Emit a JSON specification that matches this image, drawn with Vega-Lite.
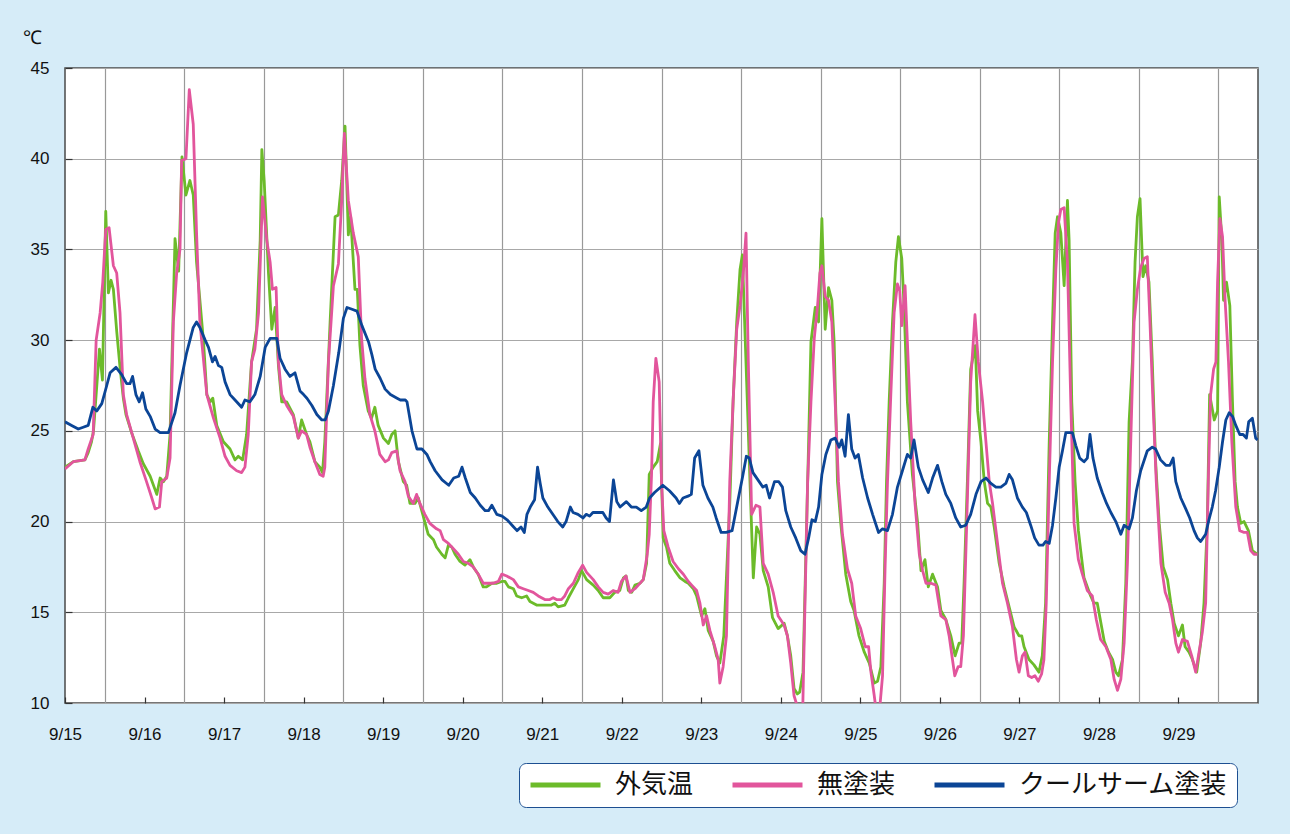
{
  "$schema": "https://vega.github.io/schema/vega-lite/v6.json",
  "width": 1193,
  "height": 635,
  "autosize": {"type": "none"},
  "padding": {"left": 65, "top": 68, "right": 32, "bottom": 131},
  "background": "#d6ecf8",
  "config": {
    "view": {"fill": "white", "stroke": "#4a4a4a", "strokeWidth": 1.5},
    "font": "Liberation Sans"
  },
  "datasets": {
    "green": [
      {"h":0,"v":23.0},{"h":2.5,"v":23.3},{"h":6,"v":23.4},{"h":7,"v":23.8},{"h":8,"v":24.4},{"h":8.6,"v":25.0},{"h":9.8,"v":28.0},{"h":10.4,"v":29.5},{"h":11.3,"v":27.8},{"h":12.3,"v":37.1},{"h":13.1,"v":32.6},{"h":13.9,"v":33.3},{"h":14.6,"v":32.8},{"h":15.6,"v":30.5},{"h":16.6,"v":28.5},{"h":17.6,"v":26.8},{"h":18.4,"v":25.9},{"h":20.1,"v":24.9},{"h":22.1,"v":23.9},{"h":23.6,"v":23.2},{"h":25.7,"v":22.5},{"h":27.7,"v":21.5},{"h":28.7,"v":22.4},{"h":29.7,"v":22.2},{"h":30.7,"v":22.5},{"h":31.7,"v":24.8},{"h":33.2,"v":35.6},{"h":34.3,"v":33.8},{"h":35.3,"v":40.1},{"h":36.5,"v":38.0},{"h":37.7,"v":38.8},{"h":38.7,"v":38.0},{"h":39.7,"v":34.3},{"h":41.8,"v":29.9},{"h":42.8,"v":27.0},{"h":43.8,"v":26.6},{"h":44.6,"v":26.8},{"h":45.8,"v":25.3},{"h":47.8,"v":24.4},{"h":49.8,"v":24.0},{"h":51.3,"v":23.4},{"h":52.3,"v":23.6},{"h":53.6,"v":23.4},{"h":54.8,"v":24.8},{"h":56.3,"v":28.8},{"h":57.8,"v":30.6},{"h":58.9,"v":35.5},{"h":59.4,"v":40.5},{"h":60.1,"v":38.8},{"h":61.4,"v":33.7},{"h":62.4,"v":30.6},{"h":63.4,"v":31.8},{"h":64.4,"v":28.6},{"h":65.4,"v":26.6},{"h":66.9,"v":26.6},{"h":68.9,"v":25.9},{"h":70.4,"v":24.6},{"h":71.4,"v":25.6},
      {"h":72.9,"v":24.8},{"h":73.9,"v":24.4},{"h":75.4,"v":23.3},{"h":76.9,"v":23.0},{"h":77.7,"v":22.7},{"h":78.4,"v":24.4},{"h":80.0,"v":31.0},{"h":81.5,"v":36.8},{"h":82.5,"v":36.9},{"h":83.5,"v":38.8},{"h":84.5,"v":41.8},{"h":85.5,"v":35.8},{"h":86.2,"v":36.8},{"h":87.5,"v":32.8},{"h":88.2,"v":32.8},{"h":89.0,"v":29.7},{"h":90.0,"v":27.5},{"h":91.5,"v":26.1},{"h":92.5,"v":25.7},{"h":93.5,"v":26.3},{"h":94.5,"v":25.3},{"h":96.1,"v":24.6},{"h":97.6,"v":24.3},{"h":98.6,"v":24.8},{"h":99.6,"v":25.0},{"h":100.6,"v":23.3},{"h":102.1,"v":22.2},{"h":103.1,"v":22.0},{"h":104.1,"v":21.0},{"h":105.6,"v":21.0},{"h":106.6,"v":21.3},{"h":108.1,"v":20.3},{"h":109.6,"v":19.3},{"h":111.2,"v":19.0},{"h":112.1,"v":18.6},{"h":113.7,"v":18.2},{"h":114.7,"v":18.0},{"h":115.7,"v":18.7},{"h":116.7,"v":18.6},{"h":117.7,"v":18.2},{"h":119.2,"v":17.8},{"h":120.7,"v":17.6},{"h":122.2,"v":17.9},{"h":123.2,"v":17.5},{"h":124.7,"v":17.1},{"h":126.2,"v":16.4},{"h":127.2,"v":16.4},{"h":128.8,"v":16.6},{"h":130.3,"v":16.6},{"h":131.8,"v":16.7},{"h":132.8,"v":16.7},{"h":133.8,"v":16.4},{"h":135.3,"v":16.3},{"h":136.3,"v":15.9},{"h":137.8,"v":15.8},{"h":139.3,"v":15.9},{"h":140.3,"v":15.6},{"h":142.3,"v":15.4},
      {"h":143.3,"v":15.4},{"h":145.3,"v":15.4},{"h":146.8,"v":15.4},{"h":147.8,"v":15.5},{"h":148.8,"v":15.3},{"h":150.8,"v":15.4},{"h":151.9,"v":15.8},{"h":153.4,"v":16.3},{"h":154.9,"v":16.8},{"h":155.9,"v":17.3},{"h":157.4,"v":16.8},{"h":159.4,"v":16.5},{"h":160.9,"v":16.2},{"h":162.4,"v":15.8},{"h":164.4,"v":15.8},{"h":165.9,"v":16.1},{"h":167.4,"v":16.2},{"h":168.5,"v":16.9},{"h":169.3,"v":17.0},{"h":170.0,"v":16.2},{"h":171.0,"v":16.1},{"h":172.0,"v":16.5},{"h":173.5,"v":16.6},{"h":174.5,"v":16.8},{"h":175.5,"v":17.7},{"h":176.3,"v":22.6},{"h":177.5,"v":23.0},{"h":178.7,"v":23.3},{"h":179.7,"v":24.3},{"h":180.5,"v":19.1},{"h":181.5,"v":18.6},{"h":182.5,"v":17.7},{"h":184.0,"v":17.3},{"h":185.6,"v":16.9},{"h":187.1,"v":16.7},{"h":188.1,"v":16.6},{"h":189.6,"v":16.3},{"h":190.6,"v":15.9},{"h":192.1,"v":14.8},{"h":193.1,"v":15.2},{"h":194.1,"v":14.0},{"h":195.6,"v":13.4},{"h":196.6,"v":12.6},{"h":197.6,"v":12.2},{"h":198.8,"v":13.7},{"h":200.6,"v":21.0},{"h":201.6,"v":26.6},{"h":202.7,"v":31.0},{"h":203.7,"v":33.9},{"h":204.4,"v":34.7},{"h":205.7,"v":27.7},{"h":206.7,"v":22.2},{"h":207.7,"v":16.9},{"h":208.7,"v":19.7},{"h":209.7,"v":19.3},{"h":210.7,"v":17.3},{"h":212.2,"v":16.4},{"h":213.5,"v":14.7},{"h":215.2,"v":14.1},
      {"h":217.0,"v":14.4},{"h":218.0,"v":13.7},{"h":219.0,"v":12.6},{"h":220.0,"v":10.8},{"h":221.0,"v":10.5},{"h":221.7,"v":10.6},{"h":222.7,"v":11.7},{"h":223.5,"v":17.7},{"h":224.4,"v":24.4},{"h":225.1,"v":29.9},{"h":226.4,"v":31.8},{"h":227.4,"v":31.0},{"h":228.4,"v":36.7},{"h":229.4,"v":30.6},{"h":230.4,"v":32.9},{"h":231.4,"v":32.2},{"h":232.1,"v":29.9},{"h":233.1,"v":22.2},{"h":234.1,"v":19.9},{"h":235.6,"v":17.1},{"h":237.1,"v":15.6},{"h":238.1,"v":15.1},{"h":239.6,"v":13.7},{"h":241.2,"v":12.8},{"h":242.7,"v":12.2},{"h":244.2,"v":11.1},{"h":245.2,"v":11.2},{"h":246.2,"v":12.0},{"h":247.2,"v":16.6},{"h":247.9,"v":22.2},{"h":248.7,"v":26.6},{"h":249.7,"v":31.0},{"h":250.7,"v":34.3},{"h":251.5,"v":35.7},{"h":252.5,"v":34.5},{"h":253.2,"v":31.9},{"h":254.2,"v":26.6},{"h":255.7,"v":22.6},{"h":257.3,"v":19.9},{"h":258.3,"v":17.3},{"h":259.5,"v":17.9},{"h":260.5,"v":16.4},{"h":261.8,"v":17.1},{"h":263.3,"v":16.4},{"h":264.3,"v":15.1},{"h":265.8,"v":14.6},{"h":267.3,"v":13.7},{"h":268.6,"v":12.6},{"h":269.8,"v":13.3},{"h":270.6,"v":13.3},{"h":271.3,"v":16.6},{"h":272.3,"v":22.2},{"h":273.3,"v":28.4},{"h":274.7,"v":29.7},{"h":275.4,"v":26.1},{"h":276.4,"v":24.4},{"h":277.4,"v":22.2},{"h":278.4,"v":21.0},{"h":279.4,"v":20.8},{"h":280.4,"v":19.7},{"h":281.9,"v":17.7},{"h":283.4,"v":16.4},{"h":284.9,"v":15.3},{"h":286.4,"v":14.2},
      {"h":287.9,"v":13.7},{"h":288.7,"v":13.7},{"h":289.4,"v":13.1},{"h":290.9,"v":12.4},{"h":292.4,"v":12.1},{"h":293.9,"v":11.7},{"h":294.9,"v":12.6},{"h":295.9,"v":15.5},{"h":297.0,"v":24.4},{"h":298.0,"v":31.0},{"h":298.8,"v":35.9},{"h":299.5,"v":36.8},{"h":300.5,"v":35.9},{"h":301.5,"v":33.0},{"h":302.5,"v":37.7},{"h":303.0,"v":35.5},{"h":303.8,"v":26.6},{"h":304.8,"v":22.2},{"h":305.8,"v":19.5},{"h":306.5,"v":18.4},{"h":307.5,"v":16.9},{"h":308.5,"v":16.4},{"h":309.5,"v":15.9},{"h":310.5,"v":15.5},{"h":311.5,"v":15.5},{"h":312.5,"v":14.5},{"h":313.6,"v":13.4},{"h":314.9,"v":12.8},{"h":316.1,"v":12.4},{"h":317.1,"v":11.7},{"h":317.9,"v":11.5},{"h":319.1,"v":12.4},{"h":320.1,"v":16.6},{"h":321.1,"v":25.5},{"h":322.1,"v":28.8},{"h":322.9,"v":34.3},{"h":323.6,"v":36.8},{"h":324.4,"v":37.8},{"h":325.3,"v":33.5},{"h":326.1,"v":34.1},{"h":327.1,"v":33.2},{"h":328.1,"v":28.8},{"h":329.1,"v":23.3},{"h":330.2,"v":19.9},{"h":331.4,"v":17.5},{"h":332.7,"v":16.8},{"h":333.7,"v":15.5},{"h":334.7,"v":14.4},{"h":336.0,"v":13.7},{"h":337.2,"v":14.3},{"h":338.0,"v":13.1},{"h":339.2,"v":12.8},{"h":340.2,"v":12.4},{"h":341.5,"v":11.7},{"h":342.7,"v":13.3},{"h":343.7,"v":15.5},{"h":344.7,"v":19.9},{"h":345.4,"v":27.0},{"h":346.8,"v":25.6},{"h":347.8,"v":26.1},{"h":348.3,"v":37.9},{"h":349.1,"v":35.5},{"h":349.6,"v":32.2},{"h":350.5,"v":33.2},{"h":351.5,"v":31.9},{"h":352.3,"v":26.6},{"h":353.1,"v":22.2},{"h":353.8,"v":20.8},{"h":354.8,"v":19.9},{"h":355.8,"v":20.0},{"h":357.1,"v":19.5},{"h":358.3,"v":18.4},{"h":359.8,"v":18.2}
    ],
    "pink": [
      {"h":0,"v":22.9},{"h":2.5,"v":23.3},{"h":6,"v":23.4},{"h":7,"v":24.0},{"h":8.5,"v":24.8},{"h":9.4,"v":30.0},{"h":10.6,"v":31.5},{"h":11.4,"v":33.2},{"h":12.3,"v":36.1},{"h":13.3,"v":36.2},{"h":14.6,"v":34.1},{"h":15.6,"v":33.7},{"h":16.6,"v":31.5},{"h":17.6,"v":27.0},{"h":18.6,"v":25.9},{"h":20.6,"v":24.6},{"h":22.6,"v":23.3},{"h":24.6,"v":22.2},{"h":26.2,"v":21.3},{"h":27.2,"v":20.7},{"h":28.5,"v":20.8},{"h":29.2,"v":22.2},{"h":30.7,"v":22.4},{"h":31.7,"v":23.5},{"h":32.7,"v":31.0},{"h":33.7,"v":33.7},{"h":34.7,"v":35.0},{"h":35.2,"v":39.9},{"h":36.5,"v":40.0},{"h":37.5,"v":43.8},{"h":38.7,"v":41.9},{"h":39.7,"v":35.9},{"h":40.7,"v":31.0},{"h":42.8,"v":27.0},{"h":44.8,"v":25.7},{"h":46.8,"v":24.6},{"h":48.3,"v":23.6},{"h":49.8,"v":23.1},{"h":51.8,"v":22.8},{"h":53.3,"v":22.7},{"h":54.3,"v":23.0},{"h":55.3,"v":24.8},{"h":56.3,"v":28.8},{"h":57.3,"v":29.5},{"h":58.4,"v":31.5},{"h":59.6,"v":37.9},{"h":60.9,"v":35.5},{"h":61.9,"v":34.3},{"h":62.6,"v":32.8},{"h":63.7,"v":32.9},{"h":64.4,"v":28.8},{"h":65.4,"v":27.0},{"h":66.9,"v":26.4},{"h":68.9,"v":25.8},{"h":70.4,"v":24.6},{"h":71.4,"v":25.0},
      {"h":72.9,"v":24.8},{"h":73.9,"v":24.1},{"h":75.4,"v":23.3},{"h":76.9,"v":22.6},{"h":77.9,"v":22.5},{"h":78.4,"v":23.0},{"h":79.5,"v":28.8},{"h":81.0,"v":33.0},{"h":82.5,"v":34.2},{"h":83.5,"v":37.7},{"h":84.3,"v":41.4},{"h":85.5,"v":37.7},{"h":87.0,"v":35.9},{"h":88.5,"v":34.6},{"h":89.5,"v":30.1},{"h":90.5,"v":27.9},{"h":92.0,"v":25.9},{"h":93.5,"v":25.0},{"h":95.0,"v":23.7},{"h":96.6,"v":23.3},{"h":97.6,"v":23.4},{"h":98.6,"v":23.8},{"h":100.1,"v":23.9},{"h":101.1,"v":22.8},{"h":102.6,"v":22.2},{"h":103.6,"v":21.4},{"h":105.1,"v":21.0},{"h":106.1,"v":21.5},{"h":107.1,"v":21.0},{"h":108.6,"v":20.4},{"h":110.1,"v":19.9},{"h":112.1,"v":19.6},{"h":113.2,"v":19.5},{"h":114.2,"v":19.0},{"h":115.7,"v":18.8},{"h":117.2,"v":18.5},{"h":118.7,"v":18.2},{"h":120.2,"v":17.8},{"h":121.7,"v":17.7},{"h":123.2,"v":17.5},{"h":124.7,"v":17.1},{"h":126.2,"v":16.6},{"h":127.7,"v":16.6},{"h":129.2,"v":16.6},{"h":130.8,"v":16.7},{"h":131.8,"v":17.1},{"h":133.3,"v":17.0},{"h":135.3,"v":16.8},{"h":136.8,"v":16.4},{"h":138.3,"v":16.3},{"h":139.8,"v":16.2},{"h":141.3,"v":16.1},{"h":142.8,"v":15.9},
      {"h":144.8,"v":15.7},{"h":146.3,"v":15.7},{"h":147.3,"v":15.8},{"h":148.3,"v":15.7},{"h":149.8,"v":15.7},{"h":150.8,"v":15.9},{"h":151.9,"v":16.3},{"h":153.4,"v":16.6},{"h":154.9,"v":17.2},{"h":156.2,"v":17.6},{"h":157.4,"v":17.2},{"h":159.4,"v":16.8},{"h":160.9,"v":16.4},{"h":162.4,"v":16.1},{"h":163.9,"v":16.0},{"h":165.4,"v":16.2},{"h":166.9,"v":16.1},{"h":167.9,"v":16.7},{"h":169.3,"v":17.0},{"h":170.5,"v":16.1},{"h":172.0,"v":16.3},{"h":173.0,"v":16.5},{"h":174.5,"v":16.8},{"h":175.7,"v":18.2},{"h":176.3,"v":19.3},{"h":177.0,"v":22.6},{"h":177.5,"v":26.6},{"h":178.3,"v":29.0},{"h":179.3,"v":27.7},{"h":180.0,"v":22.2},{"h":180.7,"v":19.5},{"h":182.0,"v":18.6},{"h":183.5,"v":17.8},{"h":185.1,"v":17.4},{"h":186.6,"v":17.1},{"h":188.1,"v":16.7},{"h":189.1,"v":16.5},{"h":190.6,"v":16.2},{"h":191.6,"v":15.5},{"h":192.6,"v":14.3},{"h":193.6,"v":14.8},{"h":194.6,"v":14.0},{"h":196.1,"v":13.1},{"h":197.1,"v":12.4},{"h":197.6,"v":11.1},{"h":198.6,"v":12.0},{"h":199.6,"v":13.7},{"h":200.6,"v":22.2},{"h":201.6,"v":26.6},{"h":202.7,"v":30.6},{"h":203.7,"v":31.9},{"h":204.7,"v":33.7},{"h":205.5,"v":35.9},{"h":206.2,"v":28.8},{"h":207.2,"v":20.4},{"h":208.5,"v":20.9},{"h":209.7,"v":20.8},{"h":210.7,"v":17.7},{"h":212.2,"v":17.1},{"h":213.7,"v":16.1},{"h":215.2,"v":14.8},
      {"h":217.0,"v":14.3},{"h":218.0,"v":13.7},{"h":219.0,"v":12.2},{"h":220.0,"v":10.4},{"h":221.0,"v":9.8},{"h":221.7,"v":8.6},{"h":222.5,"v":8.6},{"h":223.3,"v":15.5},{"h":224.1,"v":22.2},{"h":225.1,"v":26.6},{"h":226.1,"v":30.1},{"h":227.1,"v":31.9},{"h":227.8,"v":33.7},{"h":228.4,"v":34.1},{"h":229.4,"v":32.4},{"h":230.4,"v":32.2},{"h":231.4,"v":31.0},{"h":232.4,"v":26.6},{"h":233.4,"v":22.2},{"h":234.6,"v":19.3},{"h":236.1,"v":17.4},{"h":237.4,"v":16.6},{"h":238.6,"v":14.8},{"h":240.1,"v":14.1},{"h":241.5,"v":13.1},{"h":242.5,"v":13.1},{"h":243.2,"v":11.7},{"h":244.2,"v":10.4},{"h":244.9,"v":9.4},{"h":245.7,"v":9.4},{"h":246.7,"v":11.5},{"h":247.5,"v":17.7},{"h":248.2,"v":22.2},{"h":249.2,"v":27.0},{"h":250.2,"v":31.5},{"h":251.2,"v":33.1},{"h":251.9,"v":32.7},{"h":252.5,"v":30.8},{"h":253.5,"v":33.0},{"h":254.2,"v":29.9},{"h":255.2,"v":25.5},{"h":256.5,"v":21.0},{"h":257.8,"v":18.2},{"h":258.8,"v":17.3},{"h":259.8,"v":16.6},{"h":261.3,"v":16.6},{"h":262.8,"v":16.5},{"h":264.3,"v":14.8},{"h":265.8,"v":14.6},{"h":266.8,"v":13.7},{"h":267.8,"v":12.4},{"h":268.5,"v":11.5},{"h":269.5,"v":12.0},{"h":270.3,"v":12.0},{"h":271.1,"v":13.7},{"h":272.1,"v":19.9},{"h":273.3,"v":27.7},{"h":274.6,"v":31.4},{"h":275.6,"v":28.8},{"h":276.9,"v":26.6},{"h":277.9,"v":24.4},{"h":278.9,"v":22.2},{"h":279.9,"v":21.0},{"h":281.4,"v":18.8},{"h":282.9,"v":16.6},{"h":284.4,"v":15.5},{"h":285.9,"v":14.2},{"h":287.1,"v":12.4},
      {"h":287.9,"v":11.7},{"h":288.9,"v":12.6},{"h":289.7,"v":12.8},{"h":290.7,"v":11.5},{"h":291.7,"v":11.4},{"h":292.7,"v":11.5},{"h":293.7,"v":11.2},{"h":294.7,"v":11.6},{"h":295.4,"v":12.4},{"h":296.1,"v":15.5},{"h":297.0,"v":22.2},{"h":298.0,"v":28.8},{"h":299.0,"v":33.9},{"h":299.8,"v":36.5},{"h":300.5,"v":37.2},{"h":301.5,"v":37.3},{"h":302.5,"v":34.3},{"h":303.5,"v":26.6},{"h":304.5,"v":19.9},{"h":305.8,"v":17.9},{"h":307.0,"v":17.1},{"h":308.5,"v":16.2},{"h":310.0,"v":15.9},{"h":311.2,"v":14.6},{"h":312.5,"v":13.5},{"h":314.1,"v":13.1},{"h":315.6,"v":12.4},{"h":316.6,"v":11.3},{"h":317.6,"v":10.7},{"h":318.6,"v":11.3},{"h":319.6,"v":13.3},{"h":320.6,"v":17.7},{"h":321.6,"v":24.4},{"h":322.6,"v":31.0},{"h":323.6,"v":32.8},{"h":324.6,"v":34.0},{"h":325.6,"v":34.5},{"h":326.6,"v":34.6},{"h":327.4,"v":31.0},{"h":328.3,"v":26.6},{"h":329.3,"v":22.2},{"h":330.7,"v":17.7},{"h":332.0,"v":16.1},{"h":333.2,"v":15.5},{"h":334.2,"v":14.6},{"h":335.2,"v":13.3},{"h":336.0,"v":12.8},{"h":337.2,"v":13.5},{"h":338.7,"v":13.4},{"h":340.0,"v":12.6},{"h":341.2,"v":11.7},{"h":342.2,"v":12.8},{"h":343.2,"v":13.9},{"h":344.2,"v":15.5},{"h":345.0,"v":22.2},{"h":345.7,"v":27.0},{"h":346.6,"v":28.4},{"h":347.3,"v":28.8},{"h":347.8,"v":33.2},{"h":348.5,"v":36.7},{"h":349.3,"v":35.7},{"h":350.1,"v":32.1},{"h":351.1,"v":28.8},{"h":352.1,"v":24.4},{"h":353.3,"v":20.8},{"h":354.5,"v":19.5},{"h":355.8,"v":19.4},{"h":356.8,"v":19.4},{"h":357.8,"v":18.4},{"h":358.8,"v":18.2},{"h":359.8,"v":18.2}
    ],
    "blue": [
      {"h":0,"v":25.5},{"h":2,"v":25.3},{"h":4,"v":25.1},{"h":5.5,"v":25.2},{"h":7,"v":25.3},{"h":8.4,"v":26.3},{"h":9.6,"v":26.1},{"h":11.1,"v":26.5},{"h":12.6,"v":27.5},{"h":13.6,"v":28.2},{"h":15.4,"v":28.5},{"h":17.1,"v":28.1},{"h":18.6,"v":27.6},{"h":19.6,"v":27.6},{"h":20.4,"v":28.0},{"h":21.4,"v":27.0},{"h":22.4,"v":26.6},{"h":23.4,"v":27.1},{"h":24.4,"v":26.2},{"h":25.7,"v":25.8},{"h":27.2,"v":25.1},{"h":28.7,"v":24.9},{"h":31.2,"v":24.9},{"h":33.2,"v":26.0},{"h":34.7,"v":27.5},{"h":36.7,"v":29.3},{"h":38.7,"v":30.7},{"h":39.7,"v":31.0},{"h":40.7,"v":30.7},{"h":42.3,"v":30.0},{"h":43.3,"v":29.6},{"h":44.5,"v":28.8},{"h":45.3,"v":29.1},{"h":46.3,"v":28.6},{"h":47.3,"v":28.5},{"h":48.3,"v":27.7},{"h":49.8,"v":27.0},{"h":51.3,"v":26.7},{"h":53.3,"v":26.3},{"h":54.3,"v":26.7},{"h":55.8,"v":26.6},{"h":57.3,"v":27.0},{"h":58.9,"v":28.0},{"h":60.4,"v":29.6},{"h":61.9,"v":30.1},{"h":63.9,"v":30.1},{"h":64.9,"v":29.0},{"h":66.4,"v":28.4},{"h":67.9,"v":28.0},{"h":69.4,"v":28.2},{"h":70.9,"v":27.2},
      {"h":72,"v":27.0},{"h":73,"v":26.8},{"h":74.5,"v":26.4},{"h":76,"v":25.9},{"h":77.5,"v":25.6},{"h":78.5,"v":25.6},{"h":79.5,"v":26.1},{"h":81,"v":27.5},{"h":82.6,"v":29.3},{"h":84,"v":31.2},{"h":85.1,"v":31.8},{"h":86.6,"v":31.7},{"h":88.1,"v":31.6},{"h":89.6,"v":30.8},{"h":91.6,"v":29.9},{"h":92.6,"v":29.2},{"h":93.6,"v":28.4},{"h":95.1,"v":27.9},{"h":96.6,"v":27.3},{"h":98.2,"v":27.0},{"h":100.2,"v":26.8},{"h":101.2,"v":26.7},{"h":102.7,"v":26.7},{"h":103.2,"v":26.6},{"h":104.7,"v":25.0},{"h":106.2,"v":24.0},{"h":107.7,"v":24.0},{"h":109.2,"v":23.7},{"h":110.2,"v":23.3},{"h":111.7,"v":22.8},{"h":113.8,"v":22.3},{"h":115.8,"v":22.0},{"h":117.3,"v":22.4},{"h":118.8,"v":22.5},{"h":119.8,"v":23.0},{"h":120.8,"v":22.4},{"h":122.3,"v":21.6},{"h":123.8,"v":21.3},{"h":125.3,"v":20.9},{"h":126.8,"v":20.6},{"h":127.8,"v":20.6},{"h":128.8,"v":20.9},{"h":130.3,"v":20.4},{"h":131.9,"v":20.3},{"h":133.4,"v":20.1},{"h":134.9,"v":19.8},{"h":136.4,"v":19.5},{"h":137.6,"v":19.7},{"h":138.6,"v":19.4},{"h":139.4,"v":20.4},{"h":140.4,"v":20.8},{"h":141.7,"v":21.2},{"h":142.6,"v":23.0},{"h":143.4,"v":22.1},
      {"h":144.2,"v":21.3},{"h":145.7,"v":20.8},{"h":147.2,"v":20.4},{"h":148.7,"v":20.0},{"h":150.2,"v":19.7},{"h":151.2,"v":20.0},{"h":152.5,"v":20.8},{"h":153.3,"v":20.5},{"h":154.8,"v":20.4},{"h":156.3,"v":20.2},{"h":157.3,"v":20.4},{"h":158.3,"v":20.3},{"h":159.3,"v":20.5},{"h":160.8,"v":20.5},{"h":162.3,"v":20.5},{"h":163.3,"v":20.2},{"h":164.3,"v":20.0},{"h":165.5,"v":22.3},{"h":166.5,"v":21.1},{"h":167.5,"v":20.8},{"h":169.4,"v":21.1},{"h":170.9,"v":20.8},{"h":172.4,"v":20.8},{"h":173.9,"v":20.6},{"h":175.4,"v":20.8},{"h":176.4,"v":21.3},{"h":177.9,"v":21.6},{"h":180.4,"v":22.0},{"h":182.4,"v":21.7},{"h":184.4,"v":21.3},{"h":185.4,"v":21.0},{"h":186.5,"v":21.3},{"h":188,"v":21.4},{"h":189,"v":21.5},{"h":190,"v":23.5},{"h":191.3,"v":23.9},{"h":192.5,"v":22.0},{"h":194,"v":21.3},{"h":195.5,"v":20.8},{"h":196.5,"v":20.2},{"h":198,"v":19.4},{"h":199.5,"v":19.4},{"h":201.3,"v":19.5},{"h":203,"v":21.1},{"h":204.5,"v":22.5},{"h":205.6,"v":23.6},{"h":206.5,"v":23.5},{"h":207.6,"v":22.7},{"h":209.1,"v":22.3},{"h":210.6,"v":21.9},{"h":211.6,"v":22.0},{"h":212.6,"v":21.3},{"h":214.1,"v":22.2},{"h":215.4,"v":22.2},
      {"h":216.5,"v":21.9},{"h":217.5,"v":20.6},{"h":219.0,"v":19.7},{"h":220.5,"v":19.1},{"h":222.0,"v":18.4},{"h":223.3,"v":18.2},{"h":224.4,"v":19.1},{"h":225.4,"v":20.1},{"h":226.4,"v":20.0},{"h":227.4,"v":20.8},{"h":228.4,"v":22.6},{"h":229.6,"v":23.7},{"h":231.1,"v":24.5},{"h":232.4,"v":24.6},{"h":233.6,"v":24.1},{"h":234.4,"v":24.5},{"h":235.4,"v":23.6},{"h":236.4,"v":25.9},{"h":237.4,"v":24.0},{"h":238.4,"v":23.5},{"h":239.4,"v":23.7},{"h":240.7,"v":22.4},{"h":242.2,"v":21.3},{"h":243.7,"v":20.4},{"h":245.5,"v":19.4},{"h":246.7,"v":19.6},{"h":248.2,"v":19.5},{"h":249.7,"v":20.4},{"h":251.2,"v":21.9},{"h":252.7,"v":22.8},{"h":254.2,"v":23.7},{"h":255.2,"v":23.5},{"h":256.2,"v":24.5},{"h":257.5,"v":23.0},{"h":258.8,"v":22.3},{"h":260.5,"v":21.6},{"h":261.8,"v":22.4},{"h":263.3,"v":23.1},{"h":264.6,"v":22.2},{"h":265.8,"v":21.5},{"h":267.3,"v":21.0},{"h":268.8,"v":20.2},{"h":270.3,"v":19.7},{"h":271.8,"v":19.8},{"h":273.3,"v":20.4},{"h":274.9,"v":21.5},{"h":276.4,"v":22.2},{"h":277.9,"v":22.4},{"h":279.4,"v":22.1},{"h":280.9,"v":21.9},{"h":282.4,"v":21.9},{"h":283.9,"v":22.1},{"h":284.9,"v":22.6},{"h":285.9,"v":22.3},{"h":287.4,"v":21.3},
      {"h":288.9,"v":20.8},{"h":290.1,"v":20.5},{"h":291.4,"v":19.8},{"h":292.6,"v":19.1},{"h":293.9,"v":18.7},{"h":295.1,"v":18.7},{"h":295.9,"v":18.9},{"h":297.0,"v":18.8},{"h":298.0,"v":19.8},{"h":299.0,"v":21.3},{"h":300.0,"v":23.0},{"h":301.0,"v":23.9},{"h":302.0,"v":24.9},{"h":303.0,"v":24.9},{"h":304.0,"v":24.9},{"h":305.0,"v":24.2},{"h":306.2,"v":23.5},{"h":307.5,"v":23.3},{"h":308.5,"v":23.5},{"h":309.3,"v":24.8},{"h":310.2,"v":23.5},{"h":311.5,"v":22.4},{"h":313.0,"v":21.6},{"h":314.3,"v":21.0},{"h":315.6,"v":20.5},{"h":317.1,"v":20.0},{"h":318.6,"v":19.3},{"h":319.6,"v":19.8},{"h":321.1,"v":19.6},{"h":322.1,"v":20.2},{"h":323.3,"v":21.7},{"h":324.6,"v":22.8},{"h":326.6,"v":23.9},{"h":328.1,"v":24.1},{"h":329.1,"v":24.0},{"h":330.6,"v":23.4},{"h":332.2,"v":23.1},{"h":333.4,"v":23.1},{"h":334.4,"v":23.5},{"h":335.2,"v":22.2},{"h":336.7,"v":21.3},{"h":338.2,"v":20.7},{"h":339.4,"v":20.2},{"h":340.7,"v":19.5},{"h":341.7,"v":19.1},{"h":342.7,"v":18.9},{"h":344.2,"v":19.3},{"h":345.2,"v":20.1},{"h":346.2,"v":20.8},{"h":347.2,"v":21.7},{"h":348.3,"v":23.0},{"h":349.3,"v":24.4},{"h":350.3,"v":25.6},{"h":351.3,"v":26.0},{"h":352.3,"v":25.8},{"h":353.3,"v":25.3},{"h":354.5,"v":24.8},{"h":355.5,"v":24.8},{"h":356.5,"v":24.6},{"h":357.2,"v":25.5},{"h":358.3,"v":25.7},{"h":359.3,"v":24.6},{"h":359.9,"v":24.5}
    ]
  },
  "encoding": {
    "y": {
      "field": "v",
      "type": "quantitative",
      "scale": {"domain": [10, 45], "nice": false, "zero": false},
      "axis": {
        "values": [10, 15, 20, 25, 30, 35, 40, 45],
        "grid": true,
        "gridColor": "#a8a8a8",
        "gridWidth": 1.2,
        "domain": false,
        "ticks": true,
        "tickSize": -7,
        "tickColor": "#333333",
        "tickWidth": 1.2,
        "labelFontSize": 17,
        "labelColor": "#111111",
        "labelPadding": 23,
        "title": "℃",
        "titleAngle": 0,
        "titleX": -33,
        "titleY": -31,
        "titleAlign": "center",
        "titleBaseline": "middle",
        "titleFontSize": 19,
        "titleFontWeight": "normal",
        "titleColor": "#111111"
      }
    }
  },
  "layer": [
    {
      "data": {"name": "green"},
      "mark": {"type": "line", "clip": true, "strokeWidth": 2.8, "strokeJoin": "round"},
      "encoding": {
        "x": {
          "field": "h",
          "type": "quantitative",
          "scale": {"domain": [0, 360], "nice": false, "zero": false},
          "axis": {
            "orient": "bottom",
            "values": [0, 24, 48, 72, 96, 120, 144, 168, 192, 216, 240, 264, 288, 312, 336],
            "labelExpr": "'9/' + (15 + datum.value / 24)",
            "grid": false,
            "domain": false,
            "ticks": true,
            "tickSize": -6,
            "tickColor": "#333333",
            "tickWidth": 1.2,
            "labelFontSize": 17,
            "labelColor": "#111111",
            "labelPadding": 29,
            "labelFlush": false,
            "labelOverlap": false,
            "title": null
          }
        },
        "color": {
          "datum": "外気温",
          "type": "nominal",
          "scale": {"domain": ["外気温", "無塗装", "クールサーム塗装"], "range": ["#6cbb2a", "#e2559c", "#0b4596"]},
          "legend": {
            "orient": "none",
            "legendX": 454,
            "legendY": 695,
            "direction": "horizontal",
            "title": null,
            "fillColor": "white",
            "strokeColor": "#1d4f91",
            "cornerRadius": 7,
            "padding": 9,
            "clipHeight": 26,
            "symbolType": "stroke",
            "symbolSize": 4900,
            "symbolStrokeWidth": 5,
            "labelFontSize": 26,
            "labelFont": "Noto Sans CJK JP",
            "labelColor": "#111111",
            "labelOffset": 12,
            "columnPadding": 36,
            "labelLimit": 400
          }
        }
      }
    },
    {
      "data": {"name": "pink"},
      "mark": {"type": "line", "clip": true, "strokeWidth": 2.8, "strokeJoin": "round"},
      "encoding": {
        "x": {
          "field": "h",
          "type": "quantitative",
          "scale": {"domain": [0, 360], "nice": false, "zero": false},
          "axis": {
            "orient": "top",
            "values": [12, 36, 60, 84, 108, 132, 156, 180, 204, 228, 252, 276, 300, 324, 348],
            "grid": true,
            "gridColor": "#999999",
            "gridWidth": 1.2,
            "labels": false,
            "ticks": false,
            "domain": false,
            "title": null
          }
        },
        "color": {"datum": "無塗装", "type": "nominal"}
      }
    },
    {
      "data": {"name": "blue"},
      "mark": {"type": "line", "clip": true, "strokeWidth": 2.8, "strokeJoin": "round"},
      "encoding": {
        "x": {"field": "h", "type": "quantitative", "scale": {"domain": [0, 360], "nice": false, "zero": false}, "axis": null},
        "color": {"datum": "クールサーム塗装", "type": "nominal"}
      }
    }
  ],
  "resolve": {"axis": {"x": "independent"}}
}
